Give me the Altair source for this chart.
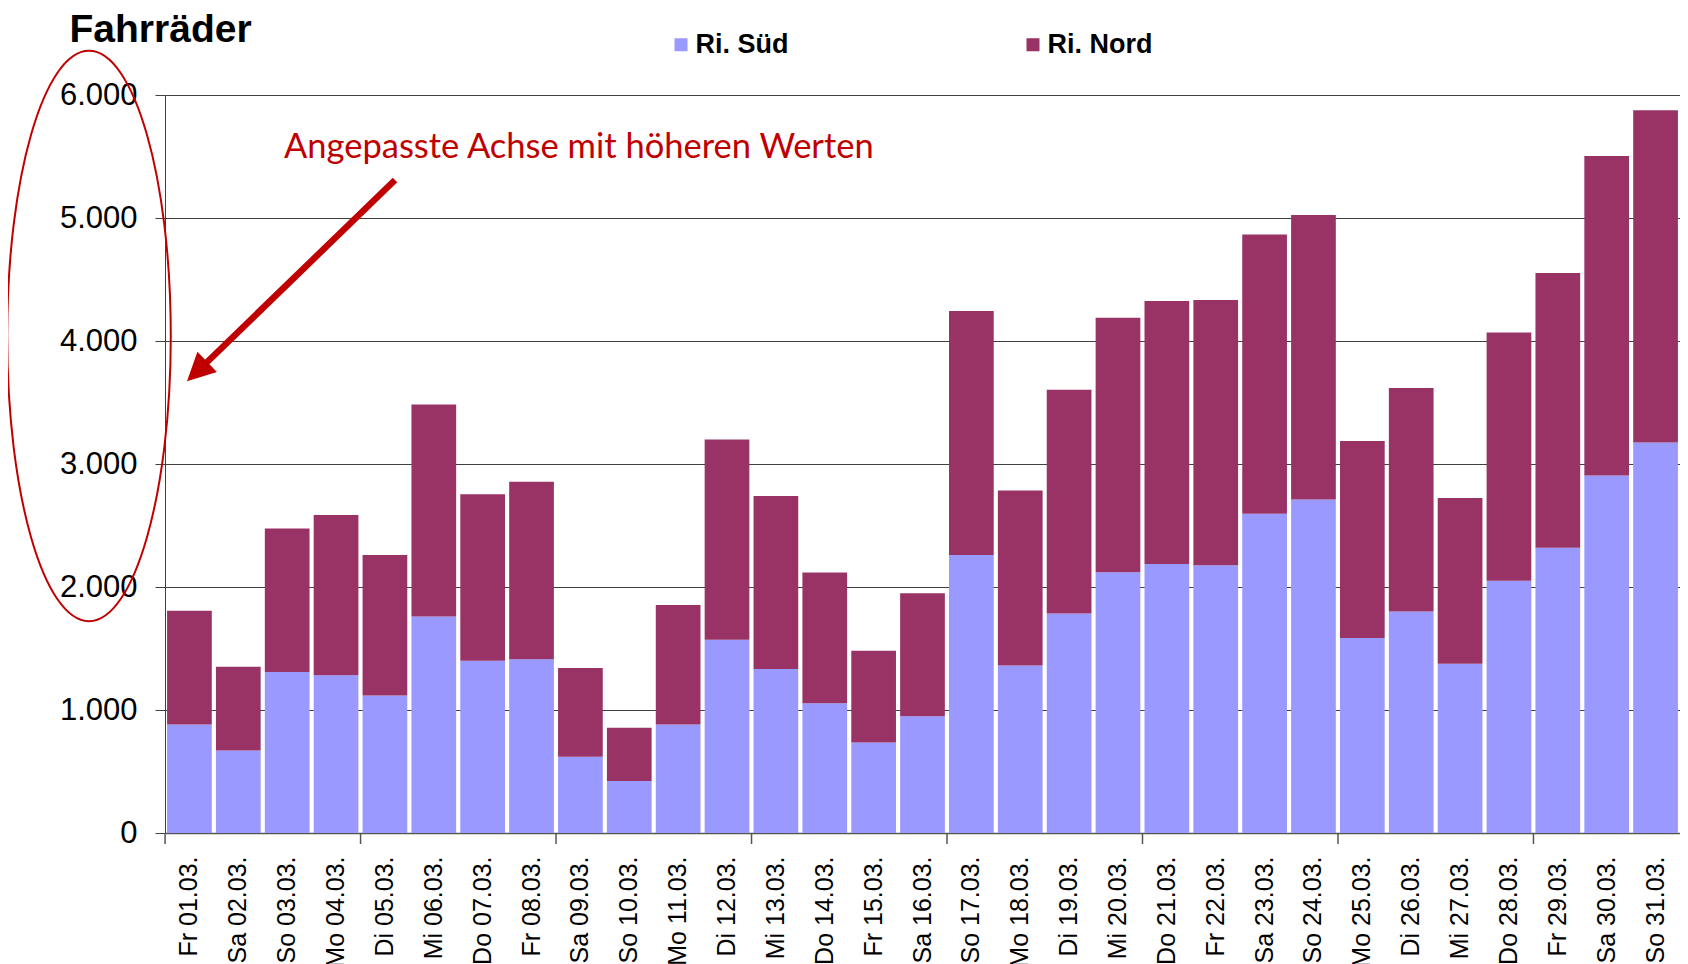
import altair as alt
import pandas as pd

days = ["Fr 01.03.", "Sa 02.03.", "So 03.03.", "Mo 04.03.", "Di 05.03.", "Mi 06.03.",
        "Do 07.03.", "Fr 08.03.", "Sa 09.03.", "So 10.03.", "Mo 11.03.", "Di 12.03.",
        "Mi 13.03.", "Do 14.03.", "Fr 15.03.", "Sa 16.03.", "So 17.03.", "Mo 18.03.",
        "Di 19.03.", "Mi 20.03.", "Do 21.03.", "Fr 22.03.", "Sa 23.03.", "So 24.03.",
        "Mo 25.03.", "Di 26.03.", "Mi 27.03.", "Do 28.03.", "Fr 29.03.", "Sa 30.03.",
        "So 31.03."]
sued = [882, 671, 1309, 1282, 1117, 1761, 1401, 1412, 619, 422, 882, 1572, 1334, 1055,
        736, 949, 2260, 1361, 1784, 2120, 2186, 2176, 2595, 2711, 1585, 1801, 1376, 2050,
        2320, 2907, 3175]
nord = [925, 681, 1166, 1304, 1144, 1723, 1353, 1444, 723, 433, 971, 1628, 1406, 1063,
        746, 1001, 1983, 1423, 1819, 2070, 2139, 2157, 2270, 2313, 1603, 1816, 1348, 2020,
        2232, 2598, 2701]
series = ["Ri. Süd", "Ri. Nord"]
colors = ["#9999FF", "#993366"]
tick_days = ["Fr 01.03.", "Di 05.03.", "Sa 09.03.", "Mi 13.03.", "So 17.03.",
             "Do 21.03.", "Mo 25.03.", "Fr 29.03."]
y_ticks = [0, 1000, 2000, 3000, 4000, 5000, 6000]
annotation = ["Angepasste Achse mit höheren Werten"]

rows = []
for d, s, n in zip(days, sued, nord):
    rows.append({"day": d, "dir": series[0], "value": s, "ord": 0})
    rows.append({"day": d, "dir": series[1], "value": n, "ord": 1})
df = pd.DataFrame(rows)

W, H = 1515, 738
FONT = "Liberation Sans"
RED = "#C00000"

xscale = alt.Scale(paddingInner=0.085, paddingOuter=0.0425)

bars = alt.Chart(df).mark_bar().encode(
    x=alt.X("day:N", sort=days, scale=xscale,
            axis=alt.Axis(title=None, labelAngle=270, labelFont=FONT, labelFontSize=25,
                          labelColor="black", labelPadding=23, ticks=False, tickSize=0,
                          labelOverlap=False, domainColor="#555555", domainWidth=1.5)),
    y=alt.Y("value:Q", stack="zero",
            scale=alt.Scale(domain=[0, 6000], nice=False),
            axis=alt.Axis(values=y_ticks,
                          labelExpr="replace(format(datum.value, ','), ',', '.')",
                          labelFont=FONT, labelFontSize=31, labelColor="black",
                          labelPadding=18, tickSize=10, tickColor="#404040",
                          domainColor="#404040", gridColor="#404040", gridWidth=1,
                          title="Fahrräder", titleAngle=0, titleX=-96, titleY=-54,
                          titleAlign="left", titleBaseline="alphabetic", titleFont=FONT,
                          titleFontSize=39, titleFontWeight="bold", titleColor="black")),
    color=alt.Color("dir:N", scale=alt.Scale(domain=series, range=colors),
                    legend=alt.Legend(orient="none", legendX=502.5, legendY=-64,
                                      direction="horizontal", columns=2, title=None,
                                      symbolType="square", symbolSize=169,
                                      symbolStrokeWidth=0, symbolOpacity=1,
                                      labelFont=FONT, labelFontSize=27,
                                      labelFontWeight="bold", labelColor="black",
                                      labelOffset=1, columnPadding=231, padding=0)),
    order=alt.Order("ord:Q", sort="ascending"),
)

tick_df = pd.DataFrame({"day": tick_days})
xticks = alt.Chart(tick_df).mark_rule(color="#555555", strokeWidth=1.5, xOffset=-2).encode(
    x=alt.X("day:N", sort=days, bandPosition=0, title=None),
    y=alt.value(H), y2=alt.value(H + 11),
)

ann_df = pd.DataFrame({"t": annotation})
ann_text = alt.Chart(ann_df).mark_text(align="left", baseline="alphabetic", font="Lato",
                                       fontSize=34.5, color=RED).encode(
    x=alt.value(119), y=alt.value(63), text="t:N")

arrow_line = alt.Chart(ann_df).mark_rule(color=RED, strokeWidth=6.5).encode(
    x=alt.value(230), y=alt.value(85), x2=alt.value(36), y2=alt.value(273))

arrow_head = alt.Chart(ann_df).mark_point(
    shape="M0,-1L0.8,0.6L-0.8,0.6Z", size=1225, angle=226, filled=True,
    color=RED, opacity=1).encode(x=alt.value(34.6), y=alt.value(274.1))

a, k = 0.2868, 0.5523
ka = k * a
ell_path = (f"M0,-1C{ka:.4f},-1,{a},{-k},{a},0C{a},{k},{ka:.4f},1,0,1"
            f"C{-ka:.4f},1,{-a},{k},{-a},0C{-a},{-k},{-ka:.4f},-1,0,-1Z")
ellipse = alt.Chart(ann_df).mark_point(
    shape=ell_path, size=325356, filled=False, color=RED, strokeWidth=2,
    opacity=1).encode(x=alt.value(-76), y=alt.value(241))

chart = alt.layer(bars, xticks, ann_text, arrow_line, arrow_head, ellipse).properties(
    width=W, height=H,
    autosize=alt.AutoSizeParams(type="none"),
    padding={"left": 157, "top": 87, "right": 0, "bottom": 131},
).configure_view(stroke=None)

chart.save("out.html", embed_options={"renderer": "svg", "actions": False})
